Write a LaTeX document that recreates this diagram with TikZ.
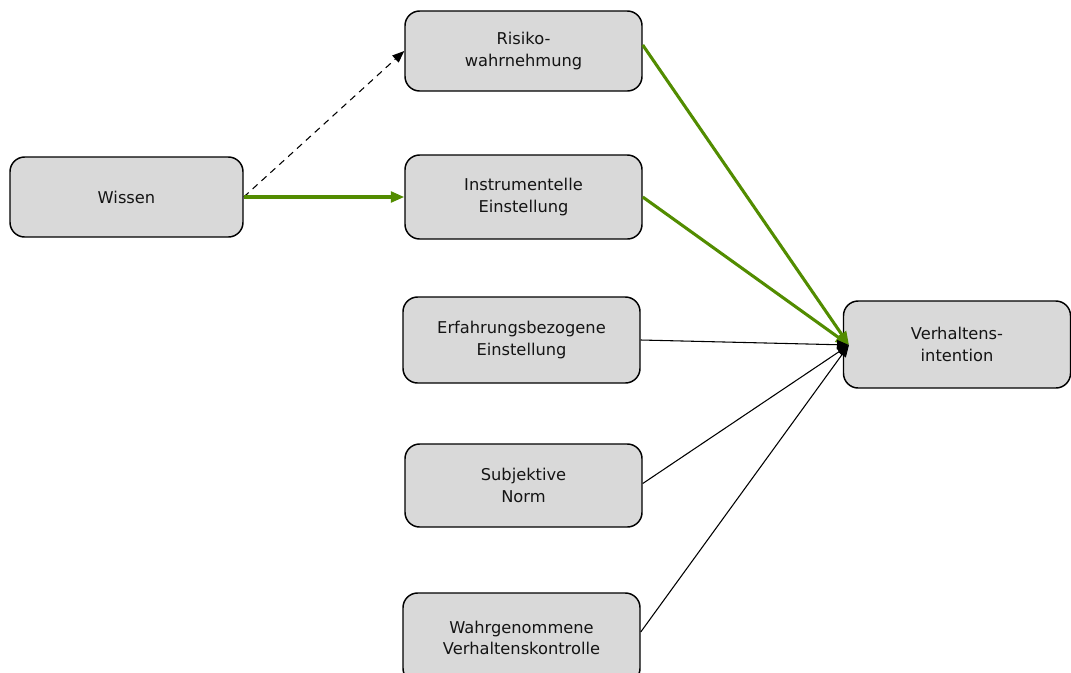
\documentclass[tikz,border=0pt]{standalone}
\usepackage{fontspec}
\setmainfont{DejaVu Sans}
\usetikzlibrary{arrows.meta}
\definecolor{boxfill}{RGB}{217,217,217}
\definecolor{grn}{RGB}{82,140,0}
\definecolor{txt}{RGB}{20,20,20}
\tikzset{
  box/.style={draw=black, line width=1.1pt, fill=boxfill, rounded corners=11pt,
    minimum width=177.75pt, align=center, inner sep=0pt, text=txt,
    font=\fontsize{12.2}{16}\selectfont},
  grnarrow/.style={draw=grn, line width=2.3pt, -{Triangle[length=10pt,width=8pt]}},
  thinarrow/.style={draw=black, line width=0.8pt, -{Triangle[length=9pt,width=7pt]}},
  dasharrow/.style={draw=black, line width=0.8pt, dash pattern=on 5pt off 4pt, -{Triangle[length=9pt,width=7pt]}}
}
\begin{document}
\begin{tikzpicture}[x=0.75pt,y=-0.75pt]
\useasboundingbox (0,0) rectangle (1071,672);
\clip (0,0) rectangle (1071,672);
\node[box, minimum width=174.75pt, minimum height=60pt] (wissen) at (126.5,197) {Wissen};
\node[box, minimum height=60pt] (risk) at (523.5,51) {Risiko-\\wahrnehmung};
\node[box, minimum height=63pt] (instr) at (523.5,197) {Instrumentelle\\Einstellung};
\node[box, minimum height=64.5pt] (erf) at (521.5,340) {Erfahrungsbezogene\\Einstellung};
\node[box, minimum height=62.25pt] (subj) at (523.5,485.5) {Subjektive\\Norm};
\node[box, minimum height=67.5pt] (wahr) at (521.5,638) {Wahrgenommene\\Verhaltenskontrolle};
\node[box, minimum width=170.25pt, minimum height=65.25pt] (verh) at (957,344.5) {Verhaltens-\\intention};
\coordinate (tgt) at (849,345);
\draw[dasharrow] (wissen.east) -- (risk.west);
\draw[grnarrow] (wissen.east) -- (instr.west);
\draw[grnarrow] ([yshift=4.5pt]risk.east) -- (tgt);
\draw[grnarrow] (instr.east) -- (tgt);
\draw[thinarrow] (erf.east) -- (tgt);
\draw[thinarrow] ([yshift=1.5pt]subj.east) -- (tgt);
\draw[thinarrow] ([yshift=4.5pt]wahr.east) -- (tgt);
\end{tikzpicture}
\end{document}
